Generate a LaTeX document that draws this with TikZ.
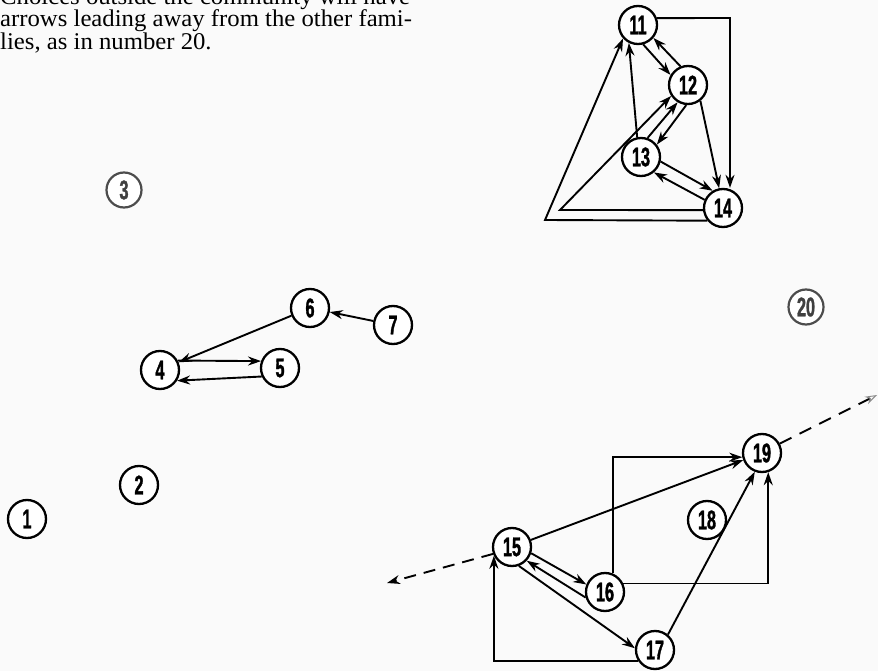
\documentclass[tikz,border=0pt]{standalone}
\usepackage{fontspec}
\setmainfont{Liberation Serif}[FakeStretch=1.03]
\newfontfamily\numfont{Liberation Sans}[FakeStretch=0.6, BoldFeatures={FakeBold=1.2}]
\usepackage{tikz}
\usetikzlibrary{arrows.meta,calc}

\begin{document}
\begin{tikzpicture}[
  x=1pt, y=-1pt,
  person/.style={circle, draw, line width=2.3pt, minimum size=38pt, inner sep=0pt, fill=white, font=\numfont\bfseries\fontsize{27}{27}\selectfont},
  faded/.style={person, draw=black!70, text=black!75, line width=2.2pt, minimum size=35pt},
  txt/.style={anchor=base west, inner sep=0pt, font=\fontsize{24}{23.5}\selectfont},
  arr/.style={-{Stealth[length=13pt, width=9pt]}, line width=1.9pt},
  darr/.style={arr, dash pattern=on 12pt off 8pt},
  farr/.style={-{Stealth[length=12pt, width=8pt, open, color=black!45, line width=0.9pt]}, line width=1.9pt, dash pattern=on 13pt off 9pt},
]
\useasboundingbox (0,0) rectangle (878,671);
\clip (0,0) rectangle (878,671);
\fill[black!2] (0,0) rectangle (878,671);

\node[txt] (line1) at (0,5) {Choices outside the community will have};
\node[txt] (line2) at (0,27) {arrows leading away from the other fami-};
\node[txt] (line3) at (0,50) {lies, as in number 20.};

\node[person] (n1) at (27,519) {1};
\node[person] (n2) at (139,485) {2};
\node[faded] (n3) at (124,190) {3};
\node[person] (n4) at (160,370) {4};
\node[person] (n5) at (280,368) {5};
\node[person] (n6) at (310,308) {6};
\node[person] (n7) at (393,325) {7};

\node[person] (n11) at (638,25) {11};
\node[person] (n12) at (688,85) {12};
\node[person] (n13) at (641,157) {13};
\node[person] (n14) at (723,208) {14};
\node[faded] (n20) at (806,307) {20};

\node[person] (n15) at (512,547) {15};
\node[person] (n16) at (605,592) {16};
\node[person] (n17) at (655,650) {17};
\node[person] (n18) at (707,520) {18};
\node[person] (n19) at (762,453) {19};

\coordinate (cTop) at (730,18);
\coordinate (cIn) at (560,210);
\coordinate (cOut) at (545,220);
\coordinate (cW) at (387,583);
\coordinate (cNE) at (877,395);

\draw[arr] (n7) -- (n6);
\draw[arr] (n6) -- (n4);
\draw[arr] (n4.28) -- (n5.160);
\draw[arr] (n5.205) -- (n4.-32);

\draw[arr] (n11.20) -- (cTop) -- (cTop |- n14.north);
\draw[arr] (n11.-75) -- (n12.150);
\draw[arr] (n12.112) -- (n11.-40);
\draw[arr] (n12.-95) -- (n13.38);
\draw[arr] (n13.71) -- (n12.239);
\draw[arr] (n14.186) -- (cIn) -- (n12.213);
\draw[arr] (n14.219) -- (cOut) -- (n11.222);
\draw[arr] (n13.101) -- (n11.243);
\draw[arr] (n12.-52) -- (n14.101);
\draw[arr] (n13.-13) -- (n14.121);
\draw[arr] (n14.156) -- (n13.-50);

\draw[arr] (n15) -- (n19);
\draw[arr] (n16.68) |- (n19.192);
\draw[arr] (n16.25) -| (n19.-72);
\draw[arr] (n17.50) -- (n19.-111);
\draw[arr] (n15.-18) -- (n16.158);
\draw[arr] (n16.196) -- (n15.-43);
\draw[arr] (n15.-70) -- (n17.175);
\draw[arr] (n17.212) -| (n15.206);
\draw[darr] (n15.200) -- (cW);
\draw[farr] (n19.28) -- (cNE);

\end{tikzpicture}
\end{document}
